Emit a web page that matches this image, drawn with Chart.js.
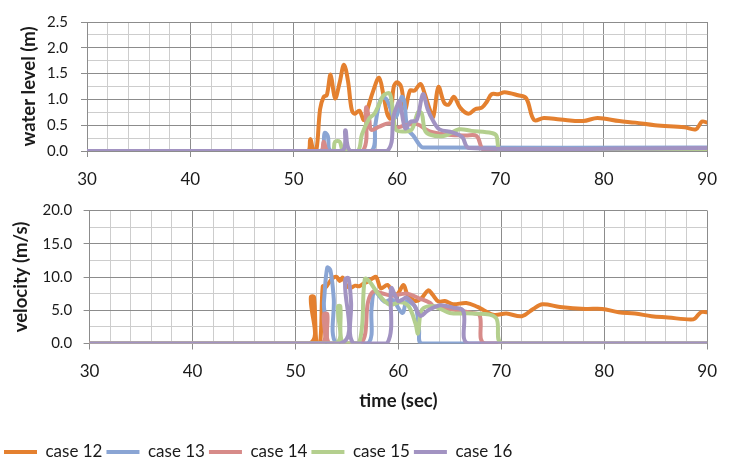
<!DOCTYPE html>
<html>
<head>
<meta charset="utf-8">
<script src="https://cdn.jsdelivr.net/npm/chart.js@4/dist/chart.umd.min.js"></script>
<style>
  html, body { margin: 0; padding: 0; background: #fff; overflow: hidden; }
  #levelChart { position: absolute; left: 0; top: 0; }
  #velocityChart { position: absolute; left: 0; top: 190px; }
</style>
</head>
<body>
<canvas id="levelChart" width="729" height="190"></canvas>
<canvas id="velocityChart" width="729" height="300"></canvas>
<script>
// series names and colours
const caseNames = ['case 12', 'case 13', 'case 14', 'case 15', 'case 16'];
const caseColors = ['#E4802F', '#8AA5D4', '#D78B89', '#B4CF8E', '#A293C2'];

// water level (m) - time (sec) / value pairs
const wlTime12 = [30, 51.3, 51.6, 51.9, 52.2, 52.55, 52.9, 53.2, 53.57, 54.0, 54.45, 54.86, 55.25, 55.6, 55.9, 56.35, 56.8, 57.2, 57.7, 58.25, 58.66, 59.05, 59.36, 59.67, 60.0, 60.4, 60.78, 61.25, 61.7, 62.26, 62.67, 63.15, 63.5, 64.0, 64.57, 65.0, 65.5, 66.1, 66.9, 67.55, 68.2, 68.7, 69.15, 69.8, 70.4, 71.7, 72.5, 73.25, 74.2, 75.8, 78.0, 79.4, 81.5, 83.05, 84.95, 87.8, 88.9, 89.5, 90];
const wl12     = [0, 0, 0.23, 0.02, 0.02, 0.81, 1.05, 1.08, 1.48, 1.02, 1.33, 1.67, 1.36, 0.81, 0.72, 0.78, 0.6, 0.85, 1.17, 1.42, 1.11, 0.72, 0.63, 1.24, 1.33, 1.24, 0.81, 1.17, 1.17, 1.3, 1.11, 0.81, 0.66, 1.24, 0.93, 0.9, 1.05, 0.84, 0.72, 0.81, 0.84, 0.96, 1.1, 1.1, 1.14, 1.08, 1.02, 0.6, 0.64, 0.61, 0.58, 0.64, 0.58, 0.55, 0.5, 0.46, 0.42, 0.57, 0.55];
const wlTime13 = [30, 52.55, 53.0, 53.3, 53.6, 57.5, 57.9, 58.4, 58.9, 59.4, 59.67, 60.0, 60.45, 60.7, 61.0, 61.6, 62.2, 62.5, 90];
const wl13     = [0, 0, 0.35, 0.29, 0, 0, 0.51, 1.0, 1.02, 0.8, 0.63, 0.7, 1.05, 0.96, 0.44, 0.29, 0.11, 0.07, 0.07];
const wlTime14 = [30, 52.6, 52.9, 53.3, 56.67, 57.0, 57.3, 57.5, 58.25, 59.0, 59.5, 59.8, 60.8, 61.9, 63.15, 64.7, 66.6, 67.7, 68.2, 68.5, 90];
const wl14     = [0, 0, 0.18, 0, 0, 0.84, 0.63, 0.41, 0.47, 0.53, 0.53, 0.45, 0.5, 0.52, 0.38, 0.32, 0.3, 0.29, 0.05, 0.03, 0.03];
const wlTime15 = [30, 53.7, 54.0, 54.45, 54.8, 56.2, 56.6, 57.3, 57.8, 58.25, 58.7, 59.3, 59.67, 59.9, 60.6, 61.4, 62.05, 62.4, 62.67, 63.15, 64.5, 66.0, 67.2, 69.15, 69.6, 70.1, 90];
const wl15     = [0, 0, 0.18, 0.18, 0, 0, 0.32, 0.63, 0.72, 0.9, 1.08, 1.11, 0.63, 0.41, 0.38, 0.41, 0.76, 0.72, 0.41, 0.32, 0.29, 0.42, 0.39, 0.35, 0.3, 0, 0];
const wlTime16 = [30, 54.6, 55.0, 55.5, 59.05, 59.67, 59.95, 60.24, 60.78, 61.25, 61.9, 62.5, 62.96, 63.45, 64.1, 65.35, 66.3, 66.95, 90];
const wl16     = [0, 0, 0.4, 0, 0, 0.69, 0.85, 0.96, 0.44, 0.56, 0.6, 1.1, 0.81, 0.6, 0.42, 0.36, 0.27, 0.06, 0.06];

// velocity (m/s)
const vTime12 = [30, 51.3, 51.5, 51.8, 52.05, 52.4, 52.65, 52.9, 53.2, 53.6, 54.0, 54.3, 54.6, 55.0, 55.4, 55.8, 56.2, 56.6, 57.0, 57.5, 57.85, 58.3, 58.95, 59.5, 59.9, 60.5, 60.9, 61.7, 62.3, 62.9, 63.3, 63.9, 64.5, 65.3, 66.6, 67.7, 68.3, 69.3, 70.5, 72.0, 73.1, 74.0, 75.7, 78.2, 79.8, 81.4, 83.0, 84.6, 86.2, 88.4, 88.8, 89.4, 90];
const v12     = [0, 0, 7.0, 7.0, 0, 0, 8.6, 8.4, 9.0, 9.8, 10.0, 9.4, 9.9, 8.6, 8.4, 8.7, 8.6, 9.0, 9.3, 9.8, 10.0, 8.3, 8.8, 7.6, 7.4, 8.8, 7.3, 6.4, 6.9, 8.0, 7.4, 6.3, 6.4, 5.9, 6.1, 5.5, 5.0, 4.3, 4.5, 4.1, 5.2, 5.9, 5.5, 5.2, 5.2, 4.7, 4.5, 4.1, 3.9, 3.6, 3.75, 4.7, 4.7];
const vTime13 = [30, 52.45, 52.77, 53.09, 53.4, 53.72, 53.95, 57.06, 57.4, 57.7, 58.65, 59.4, 60.4, 60.8, 61.67, 62.0, 62.3, 90];
const v13     = [0, 0, 6.3, 11.4, 11.0, 6.8, 0, 0, 5.4, 7.8, 6.3, 6.6, 4.6, 6.3, 5.4, 2.2, 0, 0];
const vTime14 = [30, 52.45, 52.77, 53.09, 53.3, 56.36, 57.06, 57.54, 58.3, 59.3, 60.2, 60.87, 62.0, 63.1, 63.4, 65.3, 67.2, 67.9, 68.45, 90];
const v14     = [0, 0, 4.4, 4.4, 0, 0, 6.3, 7.8, 7.6, 7.2, 7.4, 7.5, 6.8, 6.1, 5.6, 5.1, 4.6, 4.2, 0, 0];
const vTime15 = [30, 53.82, 54.14, 54.36, 54.58, 56.17, 56.74, 57.2, 58.0, 59.13, 60.2, 61.0, 61.67, 61.9, 62.3, 63.4, 65.0, 67.2, 69.46, 70.1, 90];
const v15     = [0, 0, 5.6, 5.6, 0, 0, 9.7, 9.3, 7.55, 5.85, 6.2, 5.6, 2.95, 1.5, 5.1, 5.6, 4.6, 4.5, 3.9, 0, 0];
const vTime16 = [30, 54.36, 54.84, 55.15, 55.4, 55.63, 58.9, 59.3, 59.77, 60.0, 60.4, 60.8, 61.5, 62.15, 62.8, 64.06, 65.3, 66.3, 66.85, 90];
const v16     = [0, 0, 9.7, 9.8, 6.3, 0, 0, 8.3, 6.9, 6.35, 6.6, 6.9, 5.85, 4.15, 4.9, 5.75, 5.4, 4.9, 0, 0];

const levelTimes = [wlTime12, wlTime13, wlTime14, wlTime15, wlTime16];
const levelValues = [wl12, wl13, wl14, wl15, wl16];
const velTimes = [vTime12, vTime13, vTime14, vTime15, vTime16];
const velValues = [v12, v13, v14, v15, v16];

// axis ranges / ticks
const timeMin = 30, timeMax = 90, timeStep = 2, timeLabelEvery = 10;
const levelMax = 2.5, levelStep = 0.25, levelLabelEvery = 0.5;
const velMax = 20, velStep = 2.5, velLabelEvery = 5;

Chart.defaults.font.family = 'Lato, "Open Sans", sans-serif';
Chart.defaults.color = '#1a1a1a';

const MAJOR = '#8c8c8c';
const MINOR = '#cdcdcd';

function isMultiple(v, step) {
  return Math.abs(v / step - Math.round(v / step)) < 1e-6;
}

function makeDatasets(times, values) {
  return caseNames.map((name, i) => ({
    label: name,
    data: times[i].map((t, k) => ({ x: t, y: values[i][k] })),
    borderColor: caseColors[i],
    backgroundColor: caseColors[i],
    borderWidth: 4,
    borderCapStyle: 'round',
    borderJoinStyle: 'round',
    pointRadius: 0,
    tension: 0.35,
    fill: false,
    order: caseNames.length - i   // last case drawn on top
  }));
}

function xAxis(height, showTitle) {
  return {
    type: 'linear',
    min: timeMin,
    max: timeMax,
    afterFit: (s) => { s.height = height; },
    ticks: {
      stepSize: timeStep,
      autoSkip: false,
      maxRotation: 0,
      padding: 12,
      font: { size: 17 },
      callback: (v) => isMultiple(v, timeLabelEvery) ? String(v) : ''
    },
    grid: {
      color: (c) => isMultiple(c.tick.value, timeLabelEvery) ? MAJOR : MINOR,
      tickColor: (c) => isMultiple(c.tick.value, timeLabelEvery) ? MAJOR : 'rgba(0,0,0,0)',
      tickLength: 6
    },
    border: { color: MAJOR },
    title: {
      display: showTitle,
      text: 'time (sec)',
      font: { size: 18.5, weight: 'bold' },
      padding: { top: 0, bottom: 27 }
    }
  };
}

function yAxis(max, step, every, width, title, titlePad, labelPad) {
  return {
    min: 0,
    max: max,
    afterFit: (s) => { s.width = width; },
    ticks: {
      stepSize: step,
      autoSkip: false,
      padding: labelPad,
      font: { size: 15 },
      callback: (v) => isMultiple(v, every) ? v.toFixed(1) : ''
    },
    grid: {
      color: (c) => isMultiple(c.tick.value, every) ? MAJOR : MINOR,
      tickColor: (c) => isMultiple(c.tick.value, every) ? MAJOR : 'rgba(0,0,0,0)',
      tickLength: 6
    },
    border: { color: MAJOR },
    title: {
      display: true,
      text: title,
      font: { size: 18.5, weight: 'bold' },
      padding: { top: titlePad, bottom: 0 }
    }
  };
}

new Chart(document.getElementById('levelChart'), {
  type: 'line',
  data: { datasets: makeDatasets(levelTimes, levelValues) },
  options: {
    responsive: false,
    animation: false,
    layout: { padding: { top: 14, right: 9, left: 0, bottom: 0 } },
    scales: {
      x: xAxis(39, false),
      y: yAxis(levelMax, levelStep, levelLabelEvery, 87, 'water level (m)', 18, 13)
    },
    plugins: { legend: { display: false }, tooltip: { enabled: false } }
  }
});

new Chart(document.getElementById('velocityChart'), {
  type: 'line',
  data: { datasets: makeDatasets(velTimes, velValues) },
  options: {
    responsive: false,
    animation: false,
    layout: { padding: { top: 17, right: 10, left: 0, bottom: 19.5 } },
    scales: {
      x: xAxis(96, true),
      y: yAxis(velMax, velStep, velLabelEvery, 89.6, 'velocity (m/s)', 10, 11.5)
    },
    plugins: {
      tooltip: { enabled: false },
      legend: {
        position: 'bottom',
        align: 'start',
        labels: {
          usePointStyle: true,
          pointStyle: 'line',
          pointStyleWidth: 33,
          boxHeight: 5,
          padding: 4,
          color: '#1a1a1a',
          font: { size: 17 },
          sort: (a, b) => a.datasetIndex - b.datasetIndex
        }
      }
    }
  }
});
</script>
</body>
</html>
